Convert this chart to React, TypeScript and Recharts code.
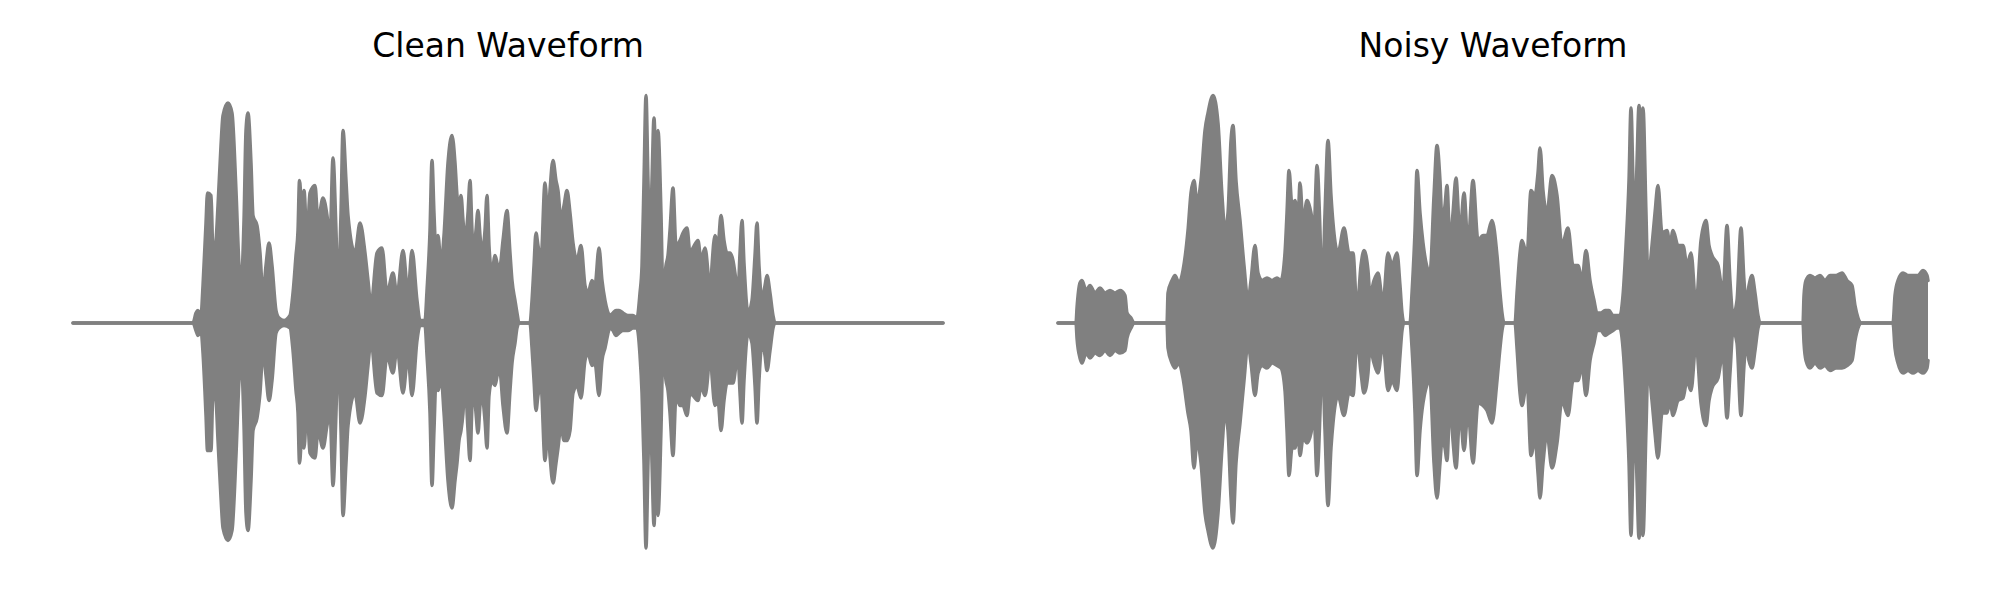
import { AreaChart, Area, XAxis, YAxis } from 'recharts'

// Waveform envelopes: time in seconds, upper / lower peak amplitude
const cleanTime = [
  0, 0.6, 0.615, 0.625, 0.64, 0.65, 0.665, 0.6725, 0.69, 0.7,
  0.715, 0.725, 0.74, 0.75, 0.775, 0.795, 0.815, 0.83, 0.84, 0.855,
  0.865, 0.875, 0.89, 0.9, 0.92, 0.935, 0.95, 0.965, 0.98, 0.995,
  1.015, 1.03, 1.055, 1.085, 1.1, 1.115, 1.125, 1.1325, 1.145, 1.155,
  1.17, 1.185, 1.21, 1.225, 1.25, 1.27, 1.285, 1.3, 1.315, 1.325,
  1.34, 1.35, 1.365, 1.375, 1.41, 1.435, 1.46, 1.475, 1.49, 1.52,
  1.545, 1.57, 1.6, 1.62, 1.65, 1.675, 1.695, 1.72, 1.735, 1.76,
  1.77, 1.785, 1.795, 1.805, 1.815, 1.825, 1.84, 1.855, 1.875, 1.895,
  1.91, 1.92, 1.93, 1.94, 1.95, 1.96, 1.975, 1.985, 1.995, 2.0025,
  2.015, 2.025, 2.035, 2.045, 2.06, 2.07, 2.08, 2.095, 2.11, 2.125,
  2.135, 2.15, 2.17, 2.185, 2.195, 2.21, 2.22, 2.23, 2.285, 2.295,
  2.305, 2.315, 2.325, 2.34, 2.36, 2.375, 2.385, 2.4, 2.415, 2.425,
  2.44, 2.455, 2.47, 2.485, 2.5, 2.52, 2.54, 2.56, 2.575, 2.595,
  2.61, 2.63, 2.645, 2.66, 2.685, 2.7, 2.715, 2.73, 2.75, 2.775,
  2.8, 2.82, 2.835, 2.845, 2.855, 2.865, 2.875, 2.885, 2.895, 2.905,
  2.915, 2.925, 2.94, 2.95, 2.965, 2.975, 2.985, 3.0, 3.015, 3.035,
  3.05, 3.07, 3.085, 3.1, 3.125, 3.14, 3.16, 3.175, 3.185, 3.195,
  3.21, 3.225, 3.24, 3.255, 3.27, 3.285, 3.3, 3.315, 3.325, 3.335,
  3.345, 3.355, 3.375, 3.395, 3.41, 3.42, 3.43, 3.445, 3.46, 3.47,
  3.485, 3.5, 3.51, 4.35,
]
const cleanUpper = [
  0, 0, 0.04, 0.05, 0.03, 0.15, 0.4, 0.52, 0.51, 0.28,
  0.33, 0.47, 0.71, 0.83, 0.88, 0.84, 0.53, 0.23, 0.15, 0.41,
  0.77, 0.84, 0.64, 0.43, 0.39, 0.28, 0.11, 0.23, 0.32, 0.23,
  0.05, 0.02, 0.01, 0.03, 0.12, 0.27, 0.37, 0.57, 0.44, 0.53,
  0.33, 0.52, 0.55, 0.41, 0.5, 0.43, 0.33, 0.66, 0.37, 0.11,
  0.44, 0.77, 0.57, 0.43, 0.28, 0.4, 0.28, 0.17, 0.07, 0.28,
  0.3, 0.12, 0.2, 0.11, 0.29, 0.12, 0.29, 0.09, 0.01, 0.01,
  0.13, 0.37, 0.65, 0.44, 0.28, 0.35, 0.23, 0.35, 0.64, 0.75,
  0.64, 0.51, 0.44, 0.51, 0.41, 0.33, 0.44, 0.57, 0.37, 0.27,
  0.37, 0.45, 0.35, 0.28, 0.37, 0.51, 0.31, 0.2, 0.27, 0.23,
  0.23, 0.33, 0.45, 0.28, 0.17, 0.09, 0.04, 0, 0, 0.09,
  0.23, 0.36, 0.31, 0.25, 0.56, 0.41, 0.53, 0.65, 0.57, 0.53,
  0.41, 0.47, 0.53, 0.44, 0.32, 0.25, 0.31, 0.15, 0.12, 0.17,
  0.15, 0.3, 0.17, 0.09, 0.03, 0.04, 0.05, 0.05, 0.04, 0.03,
  0.03, 0.02, 0.12, 0.23, 0.57, 0.91, 0.57, 0.31, 0.57, 0.82,
  0.64, 0.77, 0.44, 0.11, 0.23, 0.27, 0.37, 0.54, 0.31, 0.33,
  0.36, 0.38, 0.28, 0.3, 0.33, 0.25, 0.3, 0.2, 0.09, 0.23,
  0.35, 0.31, 0.43, 0.33, 0.28, 0.28, 0.25, 0.17, 0.12, 0.28,
  0.41, 0.24, 0.04, 0.09, 0.27, 0.4, 0.23, 0.09, 0.15, 0.19,
  0.12, 0.03, 0, 0,
]
const cleanLower = [
  0, 0, -0.03, -0.05, -0.03, -0.12, -0.37, -0.51, -0.51, -0.27,
  -0.31, -0.47, -0.7, -0.82, -0.87, -0.83, -0.53, -0.23, -0.13, -0.41,
  -0.76, -0.83, -0.63, -0.43, -0.38, -0.28, -0.11, -0.21, -0.31, -0.23,
  -0.04, -0.02, -0.01, -0.02, -0.11, -0.27, -0.36, -0.56, -0.44, -0.5,
  -0.33, -0.52, -0.54, -0.43, -0.5, -0.41, -0.35, -0.65, -0.36, -0.1,
  -0.43, -0.77, -0.56, -0.41, -0.28, -0.4, -0.29, -0.17, -0.07, -0.28,
  -0.29, -0.13, -0.2, -0.1, -0.28, -0.13, -0.29, -0.07, -0.01, -0.01,
  -0.13, -0.36, -0.65, -0.43, -0.23, -0.27, -0.21, -0.36, -0.63, -0.74,
  -0.63, -0.56, -0.47, -0.43, -0.36, -0.23, -0.43, -0.55, -0.33, -0.25,
  -0.36, -0.44, -0.33, -0.29, -0.39, -0.5, -0.29, -0.23, -0.25, -0.2,
  -0.2, -0.33, -0.44, -0.27, -0.16, -0.08, -0.02, 0, 0, -0.1,
  -0.23, -0.35, -0.29, -0.25, -0.55, -0.41, -0.53, -0.64, -0.56, -0.5,
  -0.41, -0.47, -0.47, -0.43, -0.28, -0.25, -0.3, -0.15, -0.12, -0.17,
  -0.16, -0.29, -0.15, -0.1, -0.02, -0.03, -0.05, -0.04, -0.03, -0.03,
  -0.02, -0.02, -0.13, -0.28, -0.56, -0.9, -0.56, -0.29, -0.56, -0.81,
  -0.63, -0.77, -0.43, -0.1, -0.23, -0.27, -0.36, -0.53, -0.29, -0.33,
  -0.33, -0.37, -0.28, -0.29, -0.31, -0.25, -0.29, -0.2, -0.08, -0.21,
  -0.33, -0.31, -0.43, -0.31, -0.24, -0.24, -0.24, -0.17, -0.13, -0.28,
  -0.4, -0.23, -0.04, -0.08, -0.25, -0.4, -0.23, -0.08, -0.13, -0.19,
  -0.11, -0.02, 0, 0,
]

const noisyTime = [
  0, 0.09, 0.095, 0.11, 0.12, 0.14, 0.16, 0.185, 0.21, 0.235,
  0.26, 0.285, 0.31, 0.335, 0.345, 0.365, 0.38, 0.545, 0.55, 0.57,
  0.585, 0.605, 0.625, 0.65, 0.665, 0.68, 0.695, 0.715, 0.735, 0.75,
  0.775, 0.8, 0.82, 0.835, 0.85, 0.865, 0.875, 0.89, 0.91, 0.93,
  0.95, 0.965, 0.985, 1.0, 1.02, 1.045, 1.07, 1.095, 1.115, 1.135,
  1.145, 1.155, 1.17, 1.185, 1.2, 1.21, 1.225, 1.245, 1.265, 1.28,
  1.295, 1.31, 1.32, 1.335, 1.35, 1.365, 1.375, 1.4, 1.43, 1.455,
  1.475, 1.495, 1.515, 1.53, 1.55, 1.56, 1.58, 1.6, 1.625, 1.65,
  1.67, 1.695, 1.71, 1.72, 1.73, 1.76, 1.77, 1.785, 1.795, 1.81,
  1.825, 1.86, 1.88, 1.895, 1.91, 1.92, 1.935, 1.945, 1.96, 1.975,
  1.99, 2.01, 2.03, 2.05, 2.075, 2.1, 2.125, 2.145, 2.17, 2.195,
  2.21, 2.22, 2.23, 2.285, 2.295, 2.31, 2.32, 2.345, 2.365, 2.385,
  2.4, 2.41, 2.425, 2.445, 2.47, 2.495, 2.52, 2.55, 2.575, 2.6,
  2.62, 2.64, 2.66, 2.68, 2.695, 2.715, 2.735, 2.755, 2.775, 2.795,
  2.81, 2.825, 2.84, 2.855, 2.865, 2.875, 2.885, 2.895, 2.905, 2.915,
  2.925, 2.94, 2.95, 2.97, 2.985, 3.0, 3.02, 3.045, 3.06, 3.075,
  3.1, 3.125, 3.145, 3.165, 3.19, 3.215, 3.24, 3.255, 3.27, 3.3,
  3.325, 3.345, 3.36, 3.375, 3.395, 3.415, 3.43, 3.44, 3.455, 3.47,
  3.485, 3.5, 3.51, 3.725, 3.73, 3.74, 3.76, 3.785, 3.81, 3.835,
  3.86, 3.89, 3.92, 3.945, 3.97, 3.985, 4.0, 4.015, 4.175, 4.185,
  4.2, 4.225, 4.25, 4.275, 4.3, 4.325, 4.345, 4.35,
]
const noisyUpper = [
  0, 0, 0.06, 0.16, 0.17, 0.13, 0.15, 0.12, 0.14, 0.12,
  0.13, 0.12, 0.13, 0.11, 0.04, 0.02, 0, 0, 0.12, 0.17,
  0.19, 0.16, 0.21, 0.37, 0.52, 0.57, 0.48, 0.57, 0.77, 0.84,
  0.91, 0.8, 0.51, 0.37, 0.44, 0.73, 0.79, 0.57, 0.41, 0.23,
  0.09, 0.17, 0.31, 0.2, 0.17, 0.18, 0.17, 0.18, 0.17, 0.28,
  0.44, 0.61, 0.47, 0.49, 0.41, 0.56, 0.4, 0.49, 0.44, 0.37,
  0.63, 0.37, 0.09, 0.44, 0.73, 0.51, 0.4, 0.28, 0.38, 0.28,
  0.28, 0.05, 0.23, 0.29, 0.21, 0.11, 0.17, 0.2, 0.08, 0.28,
  0.23, 0.28, 0.15, 0.04, 0, 0, 0.12, 0.37, 0.61, 0.44,
  0.32, 0.2, 0.51, 0.71, 0.57, 0.41, 0.47, 0.55, 0.31, 0.44,
  0.58, 0.35, 0.52, 0.31, 0.57, 0.33, 0.35, 0.35, 0.41, 0.27,
  0.12, 0.04, 0, 0, 0.12, 0.28, 0.33, 0.27, 0.53, 0.51,
  0.6, 0.7, 0.53, 0.44, 0.59, 0.51, 0.31, 0.38, 0.23, 0.23,
  0.17, 0.29, 0.17, 0.09, 0.04, 0.04, 0.05, 0.05, 0.03, 0.03,
  0.03, 0.11, 0.31, 0.57, 0.86, 0.57, 0.37, 0.64, 0.87, 0.71,
  0.86, 0.44, 0.17, 0.31, 0.44, 0.55, 0.36, 0.37, 0.31, 0.37,
  0.31, 0.31, 0.23, 0.28, 0.07, 0.33, 0.41, 0.31, 0.27, 0.23,
  0.12, 0.39, 0.17, 0.03, 0.09, 0.38, 0.17, 0.08, 0.15, 0.19,
  0.12, 0.03, 0, 0, 0.11, 0.17, 0.19, 0.18, 0.19, 0.17,
  0.19, 0.19, 0.2, 0.17, 0.15, 0.07, 0.02, 0, 0, 0.11,
  0.17, 0.2, 0.19, 0.19, 0.19, 0.21, 0.19, 0.17,
]
const noisyLower = [
  0, 0, -0.06, -0.14, -0.16, -0.12, -0.14, -0.12, -0.13, -0.11,
  -0.13, -0.11, -0.12, -0.11, -0.06, -0.02, 0, 0, -0.1, -0.16,
  -0.18, -0.16, -0.22, -0.36, -0.43, -0.58, -0.47, -0.56, -0.76, -0.83,
  -0.9, -0.76, -0.5, -0.36, -0.43, -0.7, -0.8, -0.56, -0.4, -0.23,
  -0.08, -0.16, -0.29, -0.2, -0.17, -0.18, -0.16, -0.17, -0.18, -0.27,
  -0.43, -0.61, -0.5, -0.5, -0.43, -0.53, -0.46, -0.48, -0.44, -0.36,
  -0.61, -0.36, -0.1, -0.43, -0.73, -0.5, -0.4, -0.29, -0.37, -0.28,
  -0.29, -0.06, -0.2, -0.28, -0.2, -0.1, -0.16, -0.2, -0.08, -0.27,
  -0.23, -0.27, -0.13, -0.03, 0, 0, -0.1, -0.36, -0.61, -0.43,
  -0.32, -0.23, -0.56, -0.7, -0.56, -0.47, -0.5, -0.55, -0.31, -0.47,
  -0.58, -0.35, -0.51, -0.35, -0.56, -0.32, -0.33, -0.35, -0.4, -0.23,
  -0.1, -0.03, 0, 0, -0.1, -0.28, -0.33, -0.23, -0.53, -0.46,
  -0.6, -0.7, -0.56, -0.44, -0.58, -0.48, -0.31, -0.37, -0.23, -0.23,
  -0.17, -0.29, -0.15, -0.08, -0.03, -0.03, -0.05, -0.04, -0.03, -0.02,
  -0.02, -0.1, -0.29, -0.56, -0.85, -0.56, -0.36, -0.63, -0.86, -0.7,
  -0.85, -0.43, -0.17, -0.31, -0.44, -0.54, -0.36, -0.36, -0.31, -0.37,
  -0.31, -0.3, -0.23, -0.27, -0.08, -0.32, -0.41, -0.31, -0.26, -0.22,
  -0.12, -0.38, -0.2, -0.03, -0.08, -0.37, -0.17, -0.08, -0.15, -0.18,
  -0.11, -0.02, 0, 0, -0.08, -0.15, -0.18, -0.16, -0.18, -0.17,
  -0.19, -0.18, -0.18, -0.17, -0.15, -0.07, -0.02, 0, 0, -0.1,
  -0.16, -0.2, -0.19, -0.2, -0.19, -0.2, -0.18, -0.15,
]

const DURATION = 4.35
const WAVE_COLOR = '#808080'

interface Row {
  t: number
  lo: number
  hi: number
}

function buildRows(time: number[], upper: number[], lower: number[]): Row[] {
  return time.map((t, i) => ({ t, hi: upper[i], lo: lower[i] }))
}

function Waveform({ rows, left }: { rows: Row[]; left: number }) {
  return (
    <div style={{ position: 'absolute', left, top: 0 }}>
      <AreaChart width={985} height={600} data={rows} margin={{ top: 73, right: 42, left: 73, bottom: 27 }}>
        <XAxis type="number" dataKey="t" domain={[0, DURATION]} hide />
        <YAxis type="number" domain={[-1, 1]} hide />
        <Area
          type="monotone"
          dataKey={(d: Row) => [d.lo, d.hi]}
          stroke={WAVE_COLOR}
          strokeWidth={3.5}
          strokeLinejoin="round"
          strokeLinecap="round"
          fill={WAVE_COLOR}
          fillOpacity={1}
          dot={false}
          activeDot={false}
          isAnimationActive={false}
        />
      </AreaChart>
    </div>
  )
}

export default function App() {
  const clean = buildRows(cleanTime, cleanUpper, cleanLower)
  const noisy = buildRows(noisyTime, noisyUpper, noisyLower)
  return (
    <div style={{ position: 'absolute', left: 0, top: 0, width: 2000, height: 600, background: '#fff' }}>
      <Waveform rows={clean} left={0} />
      <Waveform rows={noisy} left={985} />
      <svg width={2000} height={600} style={{ position: 'absolute', left: 0, top: 0, pointerEvents: 'none' }}>
        <text x={508} y={57} textAnchor="middle" fontFamily="DejaVu Sans" fontSize={33} fill="#000">
          Clean Waveform
        </text>
        <text x={1493} y={57} textAnchor="middle" fontFamily="DejaVu Sans" fontSize={33} fill="#000">
          Noisy Waveform
        </text>
      </svg>
    </div>
  )
}
